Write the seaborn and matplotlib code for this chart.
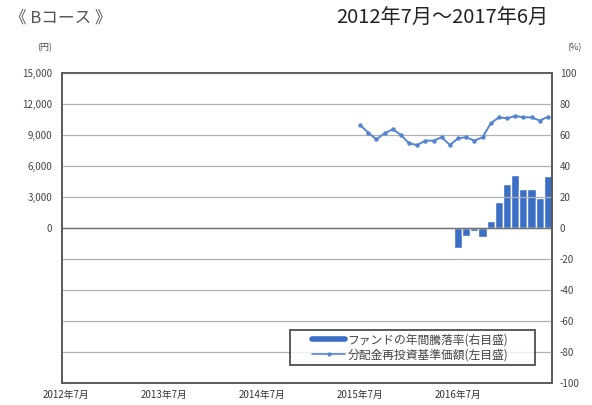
import numpy as np
import pandas as pd
import matplotlib
matplotlib.use("Agg")
import matplotlib.pyplot as plt
import seaborn as sns
from matplotlib.lines import Line2D
from matplotlib.legend_handler import HandlerLine2D

sns.set_theme(style="white")
plt.rcParams['font.family'] = ['Noto Sans CJK JP', 'DejaVu Sans']

# ---- data ----
months = [f"{y}-{m:02d}" for y in range(2012, 2018) for m in range(1, 13)]
months = [m for m in months if "2012-07" <= m <= "2017-06"]  # 60 months
x_labels = ["2012年7月", "2013年7月", "2014年7月", "2015年7月", "2016年7月"]

nav_months = months[36:]  # 2015-07 .. 2017-06
nav_values = [9970, 9220, 8580, 9160, 9550, 9000, 8190, 8030, 8450, 8450,
              8780, 8030, 8680, 8780, 8450, 8780, 10130, 10710, 10610, 10840,
              10710, 10710, 10390, 10770]

ret_months = months[48:]  # 2016-07 .. 2017-06
ret_values = [-13.1, -5.4, -1.7, -6.0, 4.7, 17.0, 28.4, 34.2, 25.2, 25.2, 19.4, 33.3]

left_ticks = list(range(-15000, 15001, 3000))
right_ticks = list(range(-100, 101, 20))

title_left = "《 Bコース 》"
title_right = "2012年7月～2017年6月"
unit_left = "(円)"
unit_right = "(%)"
legend_labels = ["ファンドの年間騰落率(右目盛)", "分配金再投資基準価額(左目盛)"]

# ---- frames ----
pos = {m: i for i, m in enumerate(months)}
df_nav = pd.DataFrame({"pos": [pos[m] for m in nav_months], "nav": nav_values})
df_ret = pd.DataFrame({"pos": [pos[m] for m in ret_months], "ret": ret_values})

fig = plt.figure(figsize=(5.92, 4.05), dpi=100)
ax = fig.add_axes([0.1047, 0.0543, 0.8277, 0.7655])
ax2 = ax.twinx()

bar_color = "#3b6fc6"
line_color = "#5585d0"

# grid on left axis
ax.set_ylim(-15000, 15000)
ax.set_yticks(left_ticks)
ax.set_yticklabels([f"{t:,}" if t >= 0 else "" for t in left_ticks])
ax.yaxis.grid(True, color="#b0b0b0", linewidth=0.9)
ax.set_axisbelow(True)

sns.barplot(data=df_ret, x="pos", y="ret", native_scale=True, color=bar_color,
            width=1.0, saturation=1, ax=ax2, zorder=2)
sns.lineplot(data=df_nav, x="pos", y="nav", ax=ax, color=line_color, linewidth=1.4,
             marker="o", markersize=3.2, markeredgewidth=0, zorder=3)
ax.axhline(0, color="#707070", linewidth=1.0, zorder=1)

ax2.set_ylim(-100, 100)
ax2.set_yticks(right_ticks)
ax2.set_yticklabels([str(t) for t in right_ticks])

for a in (ax, ax2):
    a.set_xlim(-0.5, 59.5)
    a.set_xlabel("")
    a.set_ylabel("")
    for s in a.spines.values():
        s.set_color("#555555")
        s.set_linewidth(1.1)

ax.set_xticks([0, 12, 24, 36, 48])
ax.set_xticklabels(x_labels)
ax.tick_params(axis="x", length=0, labelsize=7, colors="#333333", pad=5)
ax.tick_params(axis="y", length=0, labelsize=7, colors="#444444", pad=7)
ax2.tick_params(axis="y", length=0, labelsize=7, colors="#444444", pad=5.5)

ax.set_zorder(ax2.get_zorder() + 1)
ax.patch.set_visible(False)

fig.text(0.017, 0.955, title_left, fontsize=12, color="#555555", va="center", ha="left")
fig.text(0.927, 0.955, title_right, fontsize=14.5, color="#222222", va="center", ha="right")
fig.text(0.062, 0.883, unit_left, fontsize=6.5, color="#444444", va="center", ha="left")
fig.text(0.958, 0.883, unit_right, fontsize=6.5, color="#444444", va="center", ha="left")

h_bar = Line2D([0], [0], color=bar_color, linewidth=4)
h_line = Line2D([0], [0], color=line_color, linewidth=1.2, marker="o", markersize=3,
                markeredgewidth=0)
leg = ax.legend([h_bar, h_line], legend_labels, loc="lower left",
                bbox_to_anchor=(0.465, 0.058, 0.5, 0.119), mode="expand",
                fontsize=8.5, frameon=True, fancybox=False, borderpad=0.3,
                handlelength=4.4, handletextpad=0.2, labelspacing=0.2, borderaxespad=0,
                handler_map={h_bar: HandlerLine2D(xpad=1.6),
                             h_line: HandlerLine2D(xpad=1.6)})
leg.get_frame().set_edgecolor("#222222")
leg.get_frame().set_linewidth(1.3)
for t in leg.get_texts():
    t.set_color("#444444")

fig.savefig("out.png", dpi=100)
